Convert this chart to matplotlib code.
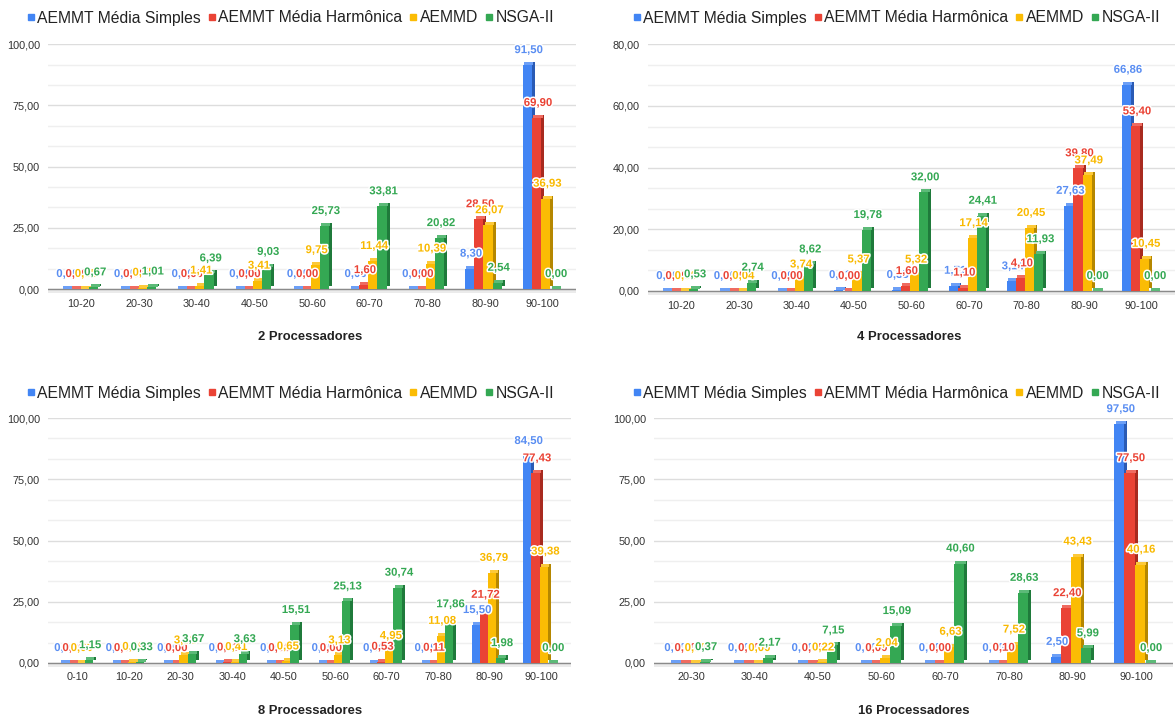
import matplotlib
matplotlib.use("Agg")
import matplotlib.pyplot as plt
from matplotlib.ticker import MultipleLocator, FuncFormatter
from matplotlib.lines import Line2D
import matplotlib.patheffects as pe
import numpy as np

plt.rcParams['font.family'] = ['Liberation Sans', 'DejaVu Sans']

# ---------------- data ----------------
series_names = ["AEMMT Média Simples", "AEMMT Média Harmônica", "AEMMD", "NSGA-II"]

cats_2 = ["10-20", "20-30", "30-40", "40-50", "50-60", "60-70", "70-80", "80-90", "90-100"]
simples_2 = [0.00, 0.00, 0.00, 0.00, 0.00, 0.00, 0.00, 8.30, 91.50]
harm_2 = [0.00, 0.00, 0.00, 0.00, 0.00, 1.60, 0.00, 28.50, 69.90]
aemmd_2 = [0.05, 0.55, 1.41, 3.41, 9.75, 11.44, 10.39, 26.07, 36.93]
nsga_2 = [0.67, 1.01, 6.39, 9.03, 25.73, 33.81, 20.82, 2.54, 0.00]

cats_4 = ["10-20", "20-30", "30-40", "40-50", "50-60", "60-70", "70-80", "80-90", "90-100"]
simples_4 = [0.00, 0.00, 0.00, 0.31, 0.35, 1.71, 3.14, 27.63, 66.86]
harm_4 = [0.00, 0.00, 0.00, 0.00, 1.60, 1.10, 4.10, 39.80, 53.40]
aemmd_4 = [0.00, 0.04, 3.74, 5.37, 5.32, 17.14, 20.45, 37.49, 10.45]
nsga_4 = [0.53, 2.74, 8.62, 19.78, 32.00, 24.41, 11.93, 0.00, 0.00]

cats_8 = ["0-10", "10-20", "20-30", "30-40", "40-50", "50-60", "60-70", "70-80", "80-90", "90-100"]
simples_8 = [0.00, 0.00, 0.00, 0.00, 0.00, 0.00, 0.00, 0.00, 15.50, 84.50]
harm_8 = [0.00, 0.00, 0.00, 0.21, 0.00, 0.00, 0.53, 0.11, 21.72, 77.43]
aemmd_8 = [0.00, 0.49, 3.12, 0.41, 0.65, 3.13, 4.95, 11.08, 36.79, 39.38]
nsga_8 = [1.15, 0.33, 3.67, 3.63, 15.51, 25.13, 30.74, 17.86, 1.98, 0.00]

cats_16 = ["20-30", "30-40", "40-50", "50-60", "60-70", "70-80", "80-90", "90-100"]
simples_16 = [0.00, 0.00, 0.00, 0.00, 0.00, 0.00, 2.50, 97.50]
harm_16 = [0.00, 0.00, 0.00, 0.00, 0.00, 0.10, 22.40, 77.50]
aemmd_16 = [0.00, 0.00, 0.22, 2.04, 6.63, 7.52, 43.43, 40.16]
nsga_16 = [0.37, 2.17, 7.15, 15.09, 40.60, 28.63, 5.99, 0.00]

titles = ["2 Processadores", "4 Processadores", "8 Processadores", "16 Processadores"]

# ---------------- style ----------------
front_colors = ['#4285f4', '#ea4335', '#fbbc04', '#34a853']
side_colors = ['#2a5bb5', '#a82a1f', '#b58700', '#1f7a3b']
top_colors = ['#6c9ff6', '#ef6b60', '#fcc93a', '#5cba78']
label_colors = ['#5a8ef2', '#ea4335', '#f9b900', '#34a853']

W, H = 1176, 717
fig = plt.figure(figsize=(W / 100, H / 100), dpi=100)
fig.patch.set_facecolor('white')


def fmt(v):
    return f"{v:.2f}".replace('.', ',')


def draw_panel(box, zero_px, cats, series, ymax, major, title, title_xy,
               legend_xy, xpad):
    left, top, right, bottom = box
    ax = fig.add_axes([left / W, 1 - bottom / H, (right - left) / W, (bottom - top) / H])
    ppu = (zero_px - top) / ymax
    ax.set_ylim(-(bottom - zero_px) / ppu, ymax)
    n = len(cats)
    margin = 0.58
    ax.set_xlim(-margin, n - 1 + margin)
    upx = (right - left) / (n - 1 + 2 * margin)
    dx = 3.0 / upx
    dy = 3.0 / ppu
    bw = 0.16
    x = np.arange(n)

    ax.axhspan(-1.4 * dy, 0, color='#ebebeb', lw=0, zorder=1)
    ax.axhline(0, color='#8a8a8a', lw=1, zorder=1.5)

    for i, vals in enumerate(series):
        vals = np.asarray(vals, dtype=float)
        xi = x + (i - 1.5) * bw - dx / 2
        ax.bar(xi + dx, vals, bw, bottom=dy, color=side_colors[i], lw=0, zorder=2)
        ax.bar(xi + dx / 2, dy, bw, bottom=vals, color=top_colors[i], lw=0, zorder=2.5)
        ax.bar(xi, vals, bw, color=front_colors[i], lw=0, zorder=3)
        for xx, v in zip(xi, vals):
            ax.annotate(fmt(v), (xx + dx / 2, v), xytext=(0, 15 * 0.72),
                        textcoords='offset points', ha='center', va='center',
                        fontsize=8.2, fontweight='bold', color=label_colors[i],
                        zorder=6 + i, annotation_clip=False,
                        path_effects=[pe.withStroke(linewidth=2.2, foreground='white')])

    ax.yaxis.set_major_locator(MultipleLocator(major))
    ax.yaxis.set_minor_locator(MultipleLocator(major / 3))
    ax.yaxis.set_major_formatter(FuncFormatter(lambda v, p: fmt(v)))
    ax.grid(which='major', axis='y', color='#dddddd', lw=1, zorder=0)
    ax.grid(which='minor', axis='y', color='#efefef', lw=1, zorder=0)
    ax.set_axisbelow(True)
    ax.set_xticks(x)
    ax.set_xticklabels(cats)
    ax.tick_params(axis='y', which='both', length=0, pad=8 * 0.72,
                   labelsize=7.85, labelcolor='#333333')
    ax.tick_params(axis='x', length=0, pad=xpad, labelsize=7.85, labelcolor='#333333')
    for s in ax.spines.values():
        s.set_visible(False)

    fig.text(title_xy[0] / W, 1 - title_xy[1] / H, title, ha='center', va='center',
             fontsize=9.4, fontweight='bold', color='#222222')

    handles = [Line2D([], [], marker='s', ls='none', color=c, markersize=4.3)
               for c in front_colors]
    fig.legend(handles, series_names, loc='center',
               bbox_to_anchor=(legend_xy[0] / W, 1 - legend_xy[1] / H),
               ncol=4, frameon=False, fontsize=11.3, handlelength=0.45,
               handletextpad=0.2, columnspacing=0.45, borderpad=0,
               borderaxespad=0, labelcolor='#222222')
    return ax


draw_panel((48, 44.3, 576, 294), 289, cats_2,
           [simples_2, harm_2, aemmd_2, nsga_2], 100, 25, titles[0],
           (310, 337), (290.5, 18), 3.6)
draw_panel((648, 44.3, 1175, 296), 291, cats_4,
           [simples_4, harm_4, aemmd_4, nsga_4], 80, 20, titles[1],
           (909, 337), (896.5, 18), 3.6)
draw_panel((48, 418, 571, 668), 663, cats_8,
           [simples_8, harm_8, aemmd_8, nsga_8], 100, 25, titles[2],
           (310, 711), (290.5, 393), 3.0)
draw_panel((654, 418, 1173, 668), 663, cats_16,
           [simples_16, harm_16, aemmd_16, nsga_16], 100, 25, titles[3],
           (914, 711), (896.5, 393), 3.0)

fig.savefig('out.png', dpi=100)
